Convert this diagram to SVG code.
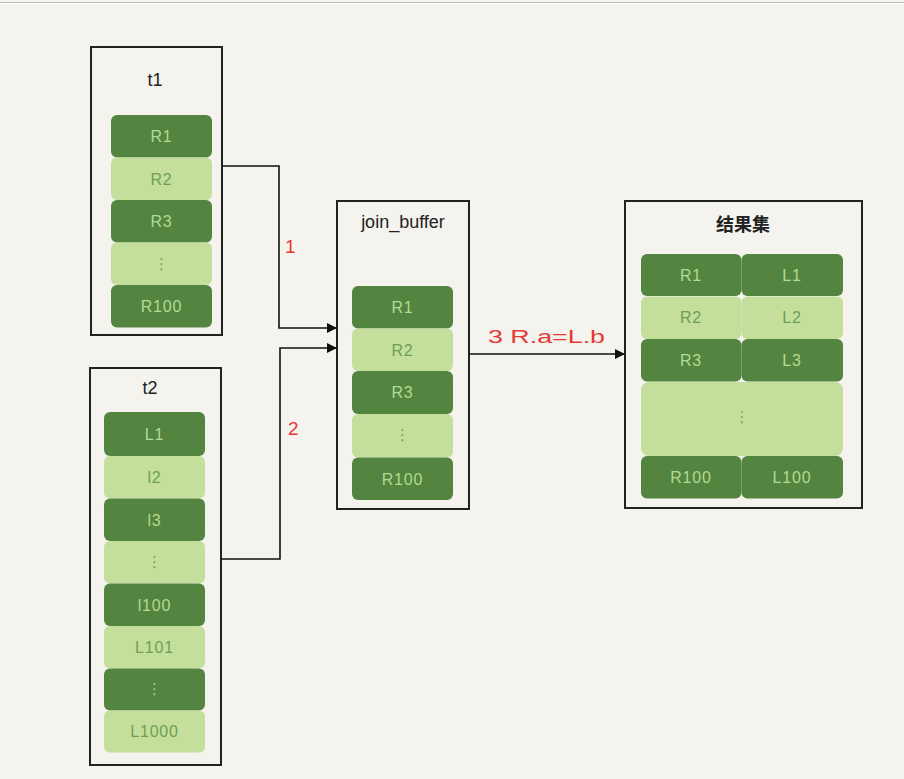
<svg xmlns="http://www.w3.org/2000/svg" width="904" height="779" viewBox="0 0 904 779">
<defs>
<style>
.bg{fill:#f4f3ee}
.box{fill:#f4f3ee;stroke:#222;stroke-width:2}
.d{fill:#548540}
.l{fill:#c4df9b}
.td{fill:#b3d992;font-family:"Liberation Sans",sans-serif;font-size:16px;letter-spacing:0.8px;text-anchor:middle;dominant-baseline:central}
.tl{fill:#6f9e57;font-family:"Liberation Sans",sans-serif;font-size:16px;letter-spacing:0.8px;text-anchor:middle;dominant-baseline:central}
.dots{font-family:"DejaVu Sans",sans-serif;font-size:15px;text-anchor:middle;dominant-baseline:central}
.title{fill:#222;font-family:"Liberation Sans",sans-serif;font-size:18px;text-anchor:middle;dominant-baseline:central}
.red{fill:#e53935;font-family:"Liberation Sans",sans-serif;font-size:19px;dominant-baseline:central}
.con{fill:none;stroke:#111;stroke-width:1.6}
</style>
<marker id="arr" viewBox="0 0 10 10" refX="10" refY="5" markerWidth="10" markerHeight="10" markerUnits="userSpaceOnUse" orient="auto">
<path d="M0,0 L10,5 L0,10 z" fill="#111"/>
</marker>
</defs>
<rect class="bg" x="0" y="0" width="904" height="779"/>
<rect x="0" y="2" width="904" height="1" fill="#bdbdbd"/>
<rect x="0" y="3" width="904" height="1" fill="#ffffff"/>

<g id="t1">
<rect class="box" x="91" y="47" width="131" height="288"/>
<text class="title" x="155" y="80">t1</text>
<rect class="d" x="111" y="115" width="101" height="42.5" rx="6"/>
<text class="td" x="161.5" y="136">R1</text>
<rect class="l" x="111" y="157.5" width="101" height="42.5" rx="6"/>
<text class="tl" x="161.5" y="179">R2</text>
<rect class="d" x="111" y="200" width="101" height="42.5" rx="6"/>
<text class="td" x="161.5" y="221">R3</text>
<rect class="l" x="111" y="242.5" width="101" height="42.5" rx="6"/>
<text class="dots" x="161.5" y="264" fill="#6f9e57">⋮</text>
<rect class="d" x="111" y="285" width="101" height="42.5" rx="6"/>
<text class="td" x="161.5" y="306">R100</text>
</g>

<g id="t2">
<rect class="box" x="90" y="368" width="131" height="397"/>
<text class="title" x="150" y="388">t2</text>
<rect class="d" x="104" y="412" width="101" height="44" rx="6"/>
<text class="td" x="154.5" y="434">L1</text>
<rect class="l" x="104" y="456" width="101" height="42.5" rx="6"/>
<text class="tl" x="154.5" y="477">l2</text>
<rect class="d" x="104" y="498.5" width="101" height="42.5" rx="6"/>
<text class="td" x="154.5" y="520">l3</text>
<rect class="l" x="104" y="541" width="101" height="42.5" rx="6"/>
<text class="dots" x="154.5" y="562" fill="#6f9e57">⋮</text>
<rect class="d" x="104" y="583.5" width="101" height="42.5" rx="6"/>
<text class="td" x="154.5" y="605">l100</text>
<rect class="l" x="104" y="626" width="101" height="42.5" rx="6"/>
<text class="tl" x="154.5" y="647">L101</text>
<rect class="d" x="104" y="668.5" width="101" height="42" rx="6"/>
<text class="dots" x="154.5" y="689" fill="#a8d08a">⋮</text>
<rect class="l" x="104" y="710.5" width="101" height="42" rx="6"/>
<text class="tl" x="154.5" y="731">L1000</text>
</g>

<g id="join_buffer">
<rect class="box" x="337" y="201" width="132" height="308"/>
<text class="title" x="403" y="222">join_buffer</text>
<rect class="d" x="352" y="286" width="101" height="42.5" rx="6"/>
<text class="td" x="402.5" y="307">R1</text>
<rect class="l" x="352" y="328.5" width="101" height="42.5" rx="6"/>
<text class="tl" x="402.5" y="350">R2</text>
<rect class="d" x="352" y="371" width="101" height="43" rx="6"/>
<text class="td" x="402.5" y="392">R3</text>
<rect class="l" x="352" y="414" width="101" height="43.5" rx="6"/>
<text class="dots" x="402.5" y="435" fill="#6f9e57">⋮</text>
<rect class="d" x="352" y="457.5" width="101" height="42.5" rx="6"/>
<text class="td" x="402.5" y="479">R100</text>
</g>

<g id="result">
<rect class="box" x="625" y="201" width="237" height="307"/>
<text class="title" x="743" y="223" style="font-family:'Noto Sans CJK SC',sans-serif;font-weight:bold">结果集</text>
<rect class="d" x="641" y="254" width="100.5" height="42" rx="6"/>
<text class="td" x="691" y="275">R1</text>
<rect class="d" x="741.5" y="254" width="101.5" height="42" rx="6"/>
<text class="td" x="792" y="275">L1</text>
<rect class="l" x="641" y="296.5" width="100.5" height="42.5" rx="6"/>
<text class="tl" x="691" y="317">R2</text>
<rect class="l" x="741.5" y="296.5" width="101.5" height="42.5" rx="6"/>
<text class="tl" x="792" y="317">L2</text>
<rect class="d" x="641" y="339" width="100.5" height="42.5" rx="6"/>
<text class="td" x="691" y="360">R3</text>
<rect class="d" x="741.5" y="339" width="101.5" height="42.5" rx="6"/>
<text class="td" x="792" y="360">L3</text>
<rect class="l" x="641" y="382" width="202" height="74" rx="8"/>
<text class="dots" x="742" y="417" fill="#6f9e57">⋮</text>
<rect class="d" x="641" y="456" width="100.5" height="42.5" rx="6"/>
<text class="td" x="691" y="477">R100</text>
<rect class="d" x="741.5" y="456" width="101.5" height="42.5" rx="6"/>
<text class="td" x="792" y="477">L100</text>
</g>

<g id="connectors">
<path class="con" d="M222,166 H279 V328 H337" marker-end="url(#arr)"/>
<path class="con" d="M221,559 H280 V348 H337" marker-end="url(#arr)"/>
<path class="con" d="M469,354 H625" marker-end="url(#arr)"/>
<text class="red" x="285" y="246">1</text>
<text class="red" x="288" y="428">2</text>
<text class="red" x="488" y="336" textLength="117" lengthAdjust="spacingAndGlyphs">3 R.a=L.b</text>
</g>
</svg>
